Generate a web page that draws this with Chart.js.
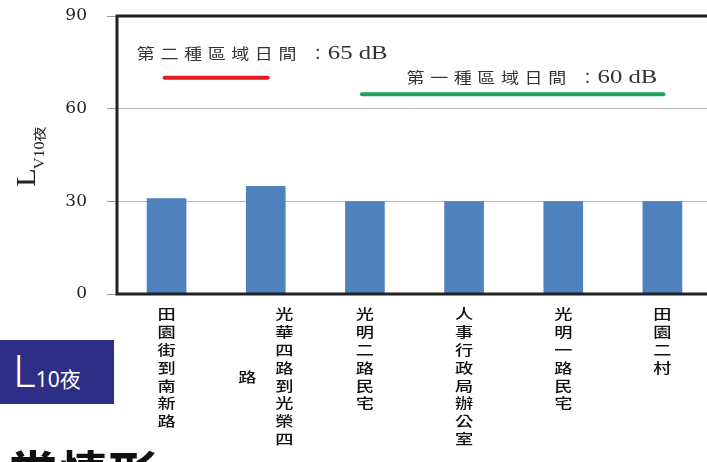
<!DOCTYPE html>
<html>
<head>
<meta charset="utf-8">
<script src="https://cdn.jsdelivr.net/npm/chart.js@4/dist/chart.umd.min.js"></script>
<style>
  html, body { margin: 0; padding: 0; width: 707px; height: 462px; overflow: hidden; background: #fff; }
  #chart { position: absolute; left: 0; top: 0; display: block; }
  #tag { position: absolute; left: 0; top: 340px; width: 114px; height: 64px; background: #2d2e85; color: #fff; font-family: "Noto Sans", sans-serif; }
  #tag .txt { position: absolute; left: 13px; top: 8px; line-height: 1; white-space: nowrap; }
  #tag .big { font-size: 44px; font-weight: 300; }
  #tag .sub { font-size: 21px; font-family: "Noto Sans", "Noto Sans CJK TC", sans-serif; }
  #heading { position: absolute; left: 8px; top: 446px; font: bold 50px "Noto Sans CJK TC", sans-serif; line-height: 1; color: #111; white-space: nowrap; }
</style>
</head>
<body>
<canvas id="chart" width="712" height="462"></canvas>
<div id="tag"><div class="txt"><span class="big">L</span><span class="sub">10夜</span></div></div>
<div id="heading">常情形</div>
<script>
const categories = ["田園街到南新路", "光華四路到光榮四路", "光明二路民宅", "人事行政局辦公室", "光明一路民宅", "田園二村"];
const nightL10 = [31, 35, 30, 30, 30, 30];
const yTicks = [0, 30, 60, 90];
const limitNotes = ["第二種區域日間", "第一種區域日間"];
const limitValues = ["65 dB", "60 dB"];

const cjk = '"Noto Sans CJK TC", sans-serif';
const serif = '"Liberation Serif", serif';

// text squeezed wider, as in the source picture
function wideText(ctx, text, x, y, sx) {
  ctx.save();
  ctx.translate(x, y);
  ctx.scale(sx, 1);
  ctx.fillText(text, 0, 0);
  ctx.restore();
}

// frame, vertical labels, axis title and the two limit notes
const decor = {
  id: "decor",
  afterDatasetsDraw(chart) {
    const { ctx, chartArea: a, scales } = chart;
    const xs = scales.x, ys = scales.y;
    ctx.save();

    // box round the plot
    ctx.strokeStyle = "#222";
    ctx.lineWidth = 3;
    ctx.beginPath();
    ctx.moveTo(a.right + 5, a.top);
    ctx.lineTo(a.left, a.top);
    ctx.lineTo(a.left, a.bottom);
    ctx.lineTo(a.right + 5, a.bottom);
    ctx.stroke();

    // category names, written top to bottom
    ctx.fillStyle = "#111";
    ctx.font = "500 14px " + cjk;
    ctx.textAlign = "center";
    ctx.textBaseline = "middle";
    categories.forEach((name, i) => {
      const chars = Array.from(name);
      const cols = [];
      for (let k = 0; k < chars.length; k += 8) cols.push(chars.slice(k, k + 8));
      const cx = xs.getPixelForValue(i);
      const top = a.bottom + 20;
      cols.forEach((col, c) => {
        const x = cx + (cols.length - 1) * 18.5 - c * 37;
        const y0 = top + (cols[0].length - col.length) * 9;
        col.forEach((ch, r) => wideText(ctx, ch, x, y0 + r * 17.8, 1.3));
      });
    });

    // y axis title L(V10夜)
    ctx.save();
    ctx.translate(35, 187);
    ctx.rotate(-Math.PI / 2);
    ctx.scale(1.15, 1);
    ctx.fillStyle = "#222";
    ctx.textAlign = "left";
    ctx.textBaseline = "alphabetic";
    ctx.font = "27px " + serif;
    ctx.fillText("L", 0, 0);
    let w = ctx.measureText("L").width - 1;
    ctx.font = "14px " + serif;
    ctx.fillText("V10", w, 9);
    w += ctx.measureText("V10").width;
    ctx.font = "13px " + cjk;
    ctx.fillText("夜", w, 9);
    ctx.restore();

    // limit notes
    const notes = [
      { x: -0.3, y: 78, from: -0.02, to: 1.02, at: 70, color: "#e31b23" },
      { x: 2.42, y: 70.2, from: 1.97, to: 5.01, at: 64.7, color: "#1fa35c" }
    ];
    notes.forEach((n, i) => {
      const x0 = xs.getPixelForValue(n.x);
      const y = ys.getPixelForValue(n.y);
      ctx.fillStyle = "#333";
      ctx.textAlign = "left";
      ctx.textBaseline = "middle";
      ctx.font = "15px " + cjk;
      Array.from(limitNotes[i]).forEach((ch, k) => wideText(ctx, ch, x0 + k * 23.6, y, 1.2));
      ctx.textAlign = "center";
      ctx.fillText("：", x0 + 181, y);
      ctx.textAlign = "left";
      ctx.font = "19px " + serif;
      wideText(ctx, limitValues[i], x0 + 191, y + 1, 1.3);
      ctx.strokeStyle = n.color;
      ctx.lineWidth = 4;
      ctx.lineCap = "round";
      ctx.beginPath();
      ctx.moveTo(xs.getPixelForValue(n.from), ys.getPixelForValue(n.at));
      ctx.lineTo(xs.getPixelForValue(n.to), ys.getPixelForValue(n.at));
      ctx.stroke();
    });

    ctx.restore();
  }
};

new Chart("chart", {
  type: "bar",
  data: {
    labels: categories,
    datasets: [
      {
        label: "L10夜",
        data: nightL10,
        backgroundColor: "#4f81bd",
        barPercentage: 0.4,
        categoryPercentage: 1
      }
    ]
  },
  options: {
    responsive: false,
    animation: false,
    layout: { padding: { top: 16, left: 0, right: 0, bottom: 0 } },
    plugins: { legend: { display: false }, tooltip: { enabled: false } },
    scales: {
      x: {
        ticks: { display: false },
        grid: { display: false },
        border: { display: false },
        afterFit: (s) => { s.height = 168; }
      },
      y: {
        min: 0,
        max: 90,
        afterBuildTicks: (s) => { s.ticks = yTicks.map((v) => ({ value: v })); },
        afterFit: (s) => { s.width = 117; s.paddingTop = 0; s.paddingBottom = 0; },
        border: { display: false },
        grid: { color: "#b5b5b5", tickColor: "#9a9a9a", tickLength: 10 },
        ticks: { padding: 20, color: "#222", font: { family: "DejaVu Serif", size: 17 } }
      }
    }
  },
  plugins: [decor]
});
</script>
</body>
</html>
